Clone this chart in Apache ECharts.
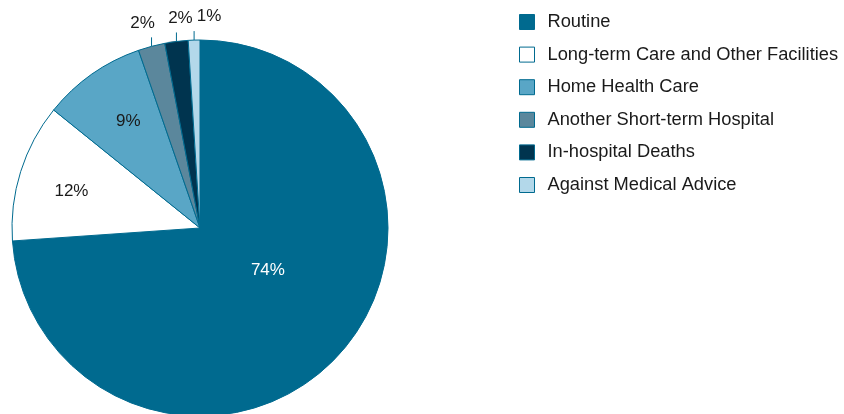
<!DOCTYPE html>
<html>
<head>
<meta charset="utf-8">
<script src="https://cdn.jsdelivr.net/npm/echarts@6/dist/echarts.min.js"></script>
<style>
  html, body { margin: 0; padding: 0; background: #fff; }
  #chart { width: 844px; height: 414px; }
</style>
</head>
<body>
<div id="chart"></div>
<script>
const categories = [
  'Routine',
  'Long-term Care and Other Facilities',
  'Home Health Care',
  'Another Short-term Hospital',
  'In-hospital Deaths',
  'Against Medical Advice'
]
const shares = [73.9, 11.9, 8.9, 2.3, 2.0, 1.0]
const sliceColors = ['#006a8f', '#ffffff', '#59a6c6', '#5b879c', '#00344f', '#b3d8ea']
const labelColors = ['#ffffff', '#1a1a1a', '#1a1a1a', '#1a1a1a', '#1a1a1a', '#1a1a1a']
const insideSlices = [true, true, true, false, false, false]
// nudges for the inside labels, and the horizontal shift of outside labels from their leader line
const insideOffsets = [[-3, -24], [-36, -8], [-16, -27], [0, 0], [0, 0], [0, 0]]
const outsideShift = [0, 0, 0, -9, 4, 15]

const chart = echarts.init(document.getElementById('chart'))

const pieData = categories.map((name, i) => ({
  name: name,
  value: shares[i],
  itemStyle: { color: sliceColors[i] },
  label: {
    position: insideSlices[i] ? 'inside' : 'outside',
    color: labelColors[i],
    offset: insideOffsets[i]
  },
  labelLine: { show: !insideSlices[i] }
}))

const option = {
  animation: false,
  legend: {
    orient: 'vertical',
    left: 514,
    top: 8,
    itemWidth: 15,
    itemHeight: 15,
    itemGap: 14.6,
    icon: 'rect',
    data: categories,
    itemStyle: { borderColor: '#006a8f', borderWidth: 1 },
    textStyle: { fontFamily: 'Liberation Sans', fontSize: 18.3, color: '#1a1a1a', padding: [0, 0, 0, 8] }
  },
  series: [
    {
      type: 'pie',
      center: [200, 228],
      radius: [0, 188],
      startAngle: 90,
      clockwise: true,
      avoidLabelOverlap: false,
      itemStyle: { borderColor: '#006a8f', borderWidth: 1 },
      label: {
        formatter: p => Math.round(p.value) + '%',
        fontFamily: 'Liberation Sans',
        fontSize: 17
      },
      labelLine: {
        length: 10,
        length2: 0,
        lineStyle: { color: '#006a8f', width: 1 }
      },
      labelLayout: function (params) {
        const i = params.dataIndex
        if (insideSlices[i] || !params.labelLinePoints) return { hideOverlap: false }
        const p0 = params.labelLinePoints[0]
        const top = [p0[0], p0[1] - 9]
        return {
          hideOverlap: false,
          x: p0[0] + outsideShift[i],
          y: top[1] - 6,
          align: 'center',
          verticalAlign: 'bottom',
          labelLinePoints: [p0, top]
        }
      },
      emphasis: { disabled: true },
      data: pieData
    }
  ]
}

chart.setOption(option)
</script>
</body>
</html>
